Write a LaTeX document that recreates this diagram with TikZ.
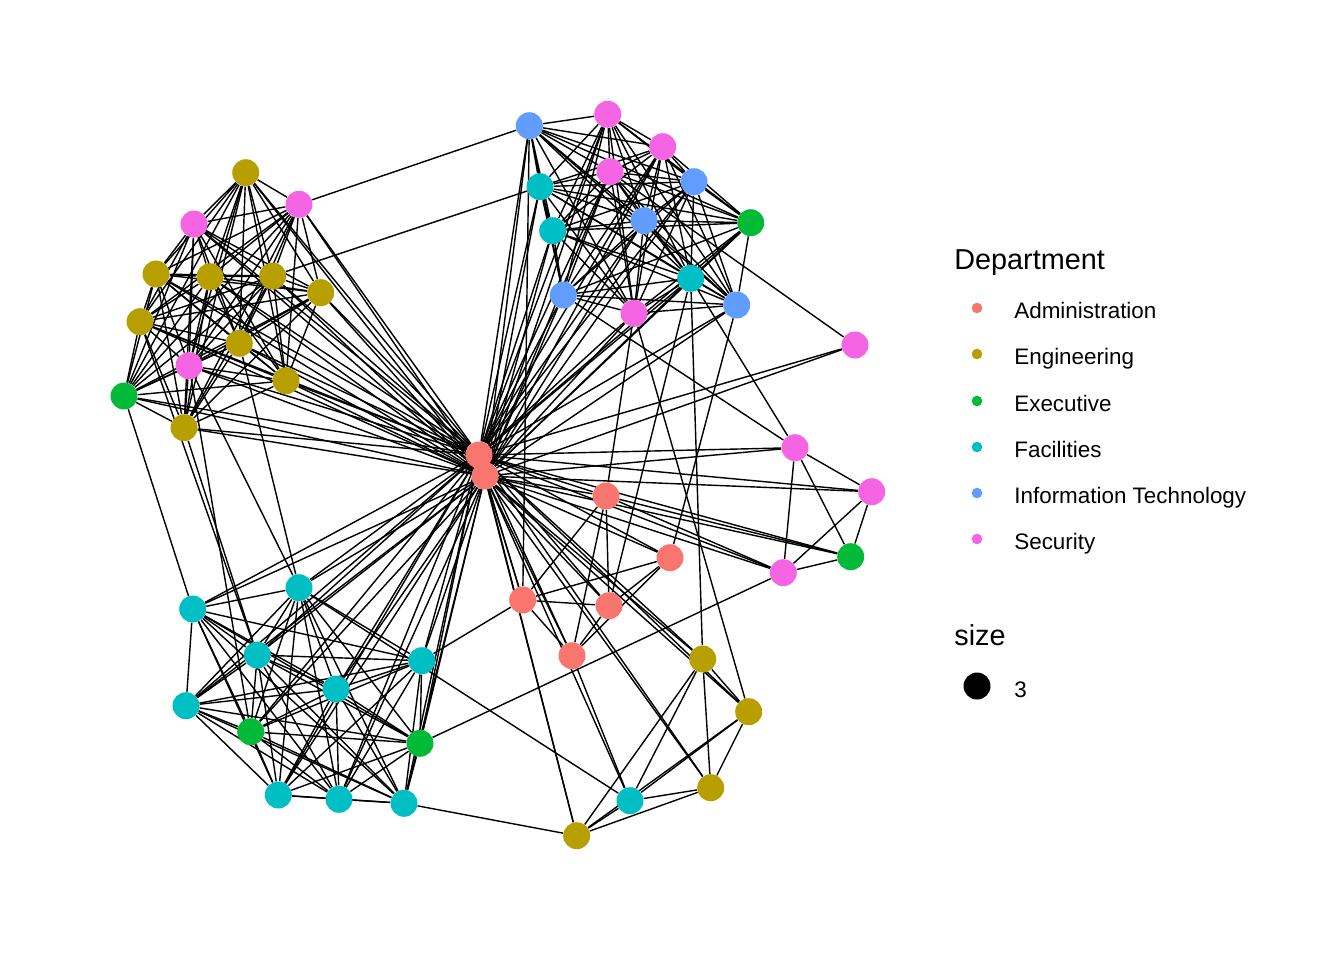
\documentclass[tikz,border=0pt]{standalone}
\usepackage{fontspec}
\setmainfont{Liberation Sans}
\usetikzlibrary{backgrounds}
\definecolor{cadm}{HTML}{F8766D}
\definecolor{ceng}{HTML}{B79F00}
\definecolor{cexe}{HTML}{00BA38}
\definecolor{cfac}{HTML}{00BFC4}
\definecolor{cit}{HTML}{619CFF}
\definecolor{csec}{HTML}{F564E3}
\newcommand{\myclique}[1]{\foreach \u [count=\i] in {#1}{\foreach \v [count=\j] in {#1}{\ifnum\j>\i\relax \draw[edge] (\u)--(\v);\fi}}}
\begin{document}
\begin{tikzpicture}[x=0.02cm,y=-0.02cm,
  dot/.style={circle,inner sep=0pt,minimum size=0.54cm},
  ldot/.style={circle,inner sep=0pt,minimum size=0.212cm},
  edge/.style={line width=0.8pt,black},
  ltxt/.style={anchor=base west,inner sep=0pt,font=\fontsize{12.76}{15}\selectfont},
  ltitle/.style={anchor=base west,inner sep=0pt,font=\fontsize{16.4}{19}\selectfont}]
\useasboundingbox (0,0) rectangle (1344,960);
% top-left cluster
\node[dot,fill=ceng] (e1) at (245.7,172.7) {};
\node[dot,fill=csec] (s1) at (299,204.3) {};
\node[dot,fill=csec] (s2) at (194,224) {};
\node[dot,fill=ceng] (e2) at (156,274) {};
\node[dot,fill=ceng] (e3) at (210,276.7) {};
\node[dot,fill=ceng] (e4) at (272.7,276) {};
\node[dot,fill=ceng] (e5) at (320.7,292.7) {};
\node[dot,fill=ceng] (e6) at (140,321.7) {};
\node[dot,fill=ceng] (e7) at (239.3,343.3) {};
\node[dot,fill=csec] (s3) at (189,365.7) {};
\node[dot,fill=ceng] (e8) at (286,380.7) {};
\node[dot,fill=cexe] (x1) at (124,396) {};
\node[dot,fill=ceng] (e9) at (184,427.7) {};
% top-right cluster
\node[dot,fill=cit] (i1) at (529.3,125.7) {};
\node[dot,fill=csec] (s4) at (607.7,114.3) {};
\node[dot,fill=csec] (s5) at (662.7,146.7) {};
\node[dot,fill=csec] (s6) at (610,171.7) {};
\node[dot,fill=cfac] (f1) at (540,186.7) {};
\node[dot,fill=cit] (i2) at (694,181.7) {};
\node[dot,fill=cexe] (x2) at (750.7,222.7) {};
\node[dot,fill=cfac] (f2) at (552.7,230.7) {};
\node[dot,fill=cit] (i3) at (644,220.7) {};
\node[dot,fill=cfac] (f3) at (690.7,278.3) {};
\node[dot,fill=cit] (i4) at (563.3,295) {};
\node[dot,fill=csec] (s7) at (634,313.3) {};
\node[dot,fill=cit] (i5) at (736.7,305) {};
% right group
\node[dot,fill=csec] (s8) at (855,345) {};
\node[dot,fill=csec] (s9) at (795,447.7) {};
\node[dot,fill=csec] (s10) at (871.7,491.7) {};
\node[dot,fill=cexe] (x3) at (850.7,556.7) {};
\node[dot,fill=csec] (s11) at (783.3,572.7) {};
% administration
\node[dot,fill=cadm] (a1) at (479,455) {};
\node[dot,fill=cadm] (a2) at (485,476) {};
\node[dot,fill=cadm] (a3) at (606,496) {};
\node[dot,fill=cadm] (a4) at (670,557.7) {};
\node[dot,fill=cadm] (a5) at (522.7,600) {};
\node[dot,fill=cadm] (a6) at (609,605.7) {};
\node[dot,fill=cadm] (a7) at (572,655.7) {};
% bottom-right
\node[dot,fill=ceng] (e10) at (702.7,659) {};
\node[dot,fill=ceng] (e11) at (748.7,711.7) {};
\node[dot,fill=ceng] (e12) at (710.7,787.7) {};
\node[dot,fill=cfac] (f4) at (630,800.7) {};
\node[dot,fill=ceng] (e13) at (576.7,835.7) {};
% bottom-left
\node[dot,fill=cfac] (f5) at (299,587.7) {};
\node[dot,fill=cfac] (f6) at (192.7,609) {};
\node[dot,fill=cfac] (f7) at (257.3,655) {};
\node[dot,fill=cfac] (f8) at (421.7,660.7) {};
\node[dot,fill=cfac] (f9) at (336,689) {};
\node[dot,fill=cfac] (f10) at (186,705.7) {};
\node[dot,fill=cexe] (x4) at (250.7,731.7) {};
\node[dot,fill=cexe] (x5) at (420,743.3) {};
\node[dot,fill=cfac] (f11) at (278.3,795) {};
\node[dot,fill=cfac] (f12) at (339,799.3) {};
\node[dot,fill=cfac] (f13) at (404,803.3) {};

\begin{pgfonlayer}{background}
\myclique{e1,s1,s2,e2,e3,e4,e5,e6,e7,s3,e8,x1,e9}
\myclique{i1,s4,s5,s6,f1,i2,x2,f2,i3,f3,i4,s7,i5}
\myclique{f5,f6,f7,f8,f9,f10,x4,x5,f11,f12,f13}
\myclique{e10,e11,e12,f4,e13}
\myclique{s9,s10,x3,s11}
\foreach \n in {e1,s1,s2,e2,e3,e4,e5,e6,e7,s3,e8,x1,e9,
  i1,s4,s5,s6,f1,i2,x2,f2,i3,f3,i4,s7,i5,
  f5,f6,f7,f8,f9,f10,x4,x5,f11,f12,f13,
  s8,s9,s10,x3,s11,a3,a4,a5,a6,a7,e10,e11,e12,e13}
  {\draw[edge] (a1)--(\n); \draw[edge] (a2)--(\n);}
\foreach \p/\q in {a1/a2,a2/f4,a3/a5,a3/a6,a3/a7,a4/a5,a4/a6,a4/a7,a5/a6,a5/a7,a6/a7,
  s1/i1,e4/f1,s6/s8,i4/s9,f3/s9,a3/x3,a3/s11,s11/x5,a4/i5,f3/e10,s7/e11,s7/a3,f3/a6,
  a7/f4,f5/f4,f13/e13,a5/f8,a5/i1,x1/f6,e9/f7,e7/f5,s3/f5,s3/x4,e6/f7}
  {\draw[edge] (\p)--(\q);}
\end{pgfonlayer}

% legend
\node[ltitle] (ltit) at (954,269) {Department};
\node[ldot,fill=cadm] (l1) at (977,308) {};
\node[ltxt] (t1) at (1014,318) {Administration};
\node[ldot,fill=ceng] (l2) at (977,354) {};
\node[ltxt] (t2) at (1014,364) {Engineering};
\node[ldot,fill=cexe] (l3) at (977,401) {};
\node[ltxt] (t3) at (1014,411) {Executive};
\node[ldot,fill=cfac] (l4) at (977,447) {};
\node[ltxt] (t4) at (1014,457) {Facilities};
\node[ldot,fill=cit] (l5) at (977,493) {};
\node[ltxt] (t5) at (1014,503) {Information Technology};
\node[ldot,fill=csec] (l6) at (977,539) {};
\node[ltxt] (t6) at (1014,549) {Security};
\node[ltitle] (stit) at (954,645) {size};
\node[dot,fill=black] (sd) at (977,686) {};
\node[ltxt] (st) at (1014,697) {3};
\end{tikzpicture}
\end{document}
